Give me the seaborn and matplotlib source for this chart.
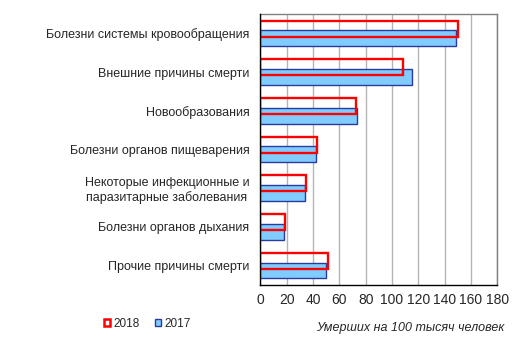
import matplotlib
matplotlib.use("Agg")
import matplotlib.pyplot as plt
import seaborn as sns
import pandas as pd
from matplotlib.patches import Patch

categories = [
    "Болезни системы кровообращения",
    "Внешние причины смерти",
    "Новообразования",
    "Болезни органов пищеварения",
    "Некоторые инфекционные и\nпаразитарные заболевания",
    "Болезни органов дыхания",
    "Прочие причины смерти",
]
values_2018 = [149.9, 108.2, 73.0, 42.7, 34.3, 18.6, 51.0]
values_2017 = [148.6, 115.3, 73.4, 42.4, 34.0, 18.1, 50.0]
years = ["2018", "2017"]
x_ticks = [0, 20, 40, 60, 80, 100, 120, 140, 160, 180]

df = pd.DataFrame({
    "cat": categories * 2,
    "val": values_2018 + values_2017,
    "year": ["2018"] * len(categories) + ["2017"] * len(categories),
})

sns.set_style("white")
plt.rcParams["font.family"] = ["Liberation Sans", "DejaVu Sans"]

fig = plt.figure(figsize=(5.24, 3.54), dpi=100)
ax = fig.add_axes([0.497, 0.195, 0.452, 0.765])

red = "#FF0000"
blue_face = "#80CCFF"
blue_edge = "#2B3A9E"

sns.barplot(data=df, y="cat", x="val", hue="year", hue_order=years,
            order=categories, orient="h", dodge=True, width=0.5,
            palette={"2018": red, "2017": blue_face}, legend=False, ax=ax,
            errorbar=None)

bar_h = 0.41
for cont, yr in zip(ax.containers, years):
    for p in cont.patches:
        c = p.get_y() + p.get_height() / 2
        p.set_height(bar_h)
        p.set_y(c - bar_h / 2)
        if yr == "2018":
            p.set_facecolor("none")
            p.set_edgecolor(red)
            p.set_linewidth(1.7)
            p.set_zorder(4)
        else:
            p.set_facecolor(blue_face)
            p.set_edgecolor(blue_edge)
            p.set_linewidth(1.0)
            p.set_zorder(3)

ax.set_xlim(0, 180)
ax.set_ylim(len(categories) - 0.5, -0.5)
ax.set_xticks(x_ticks)
ax.set_xticklabels([str(t) for t in x_ticks], fontsize=10)
ax.tick_params(axis="y", labelsize=9, pad=8, length=0)
ax.tick_params(axis="x", pad=6, length=0)
for lbl in ax.get_yticklabels():
    lbl.set_multialignment("center")
ax.set_xlabel("")
ax.set_ylabel("")
ax.xaxis.grid(True, color="#B4B4B4", linewidth=1.0)
ax.set_axisbelow(True)
for s in ["top", "right"]:
    ax.spines[s].set_color("#808080")
    ax.spines[s].set_linewidth(1.0)
for s in ["left", "bottom"]:
    ax.spines[s].set_color("black")
    ax.spines[s].set_linewidth(1.0)
    ax.spines[s].set_zorder(5)

handles = [Patch(facecolor="white", edgecolor=red, linewidth=1.8, label="2018"),
           Patch(facecolor=blue_face, edgecolor=blue_edge, linewidth=1.0, label="2017")]
fig.legend(handles=handles, loc="center left", bbox_to_anchor=(0.198, 0.085),
           ncol=2, frameon=False, fontsize=8.5, handlelength=0.55, handleheight=0.55,
           handletextpad=0.25, columnspacing=1.3, borderaxespad=0, borderpad=0)

fig.text(0.962, 0.073, "Умерших на 100 тысяч человек", ha="right", va="center",
         fontsize=9, style="italic")

fig.savefig("out.png", dpi=100)
